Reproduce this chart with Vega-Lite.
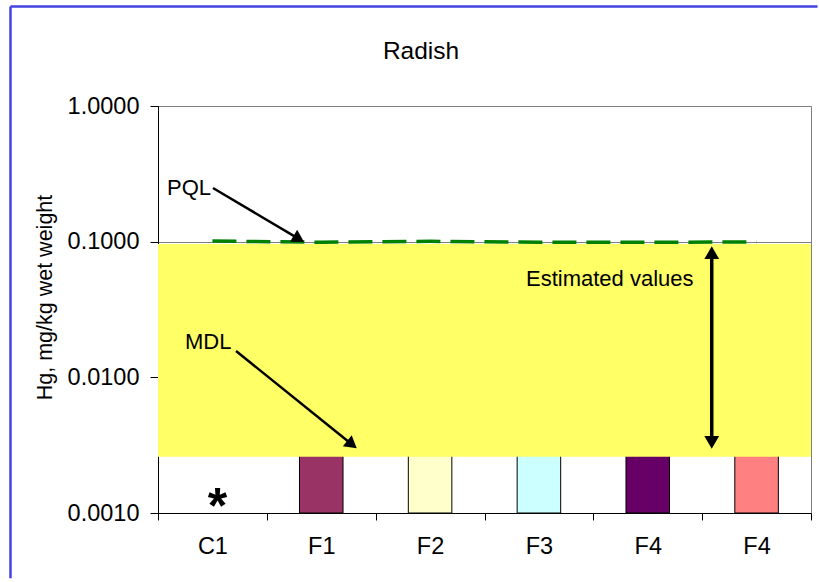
{
  "$schema": "https://vega.github.io/schema/vega-lite/v6.json",
  "width": 653,
  "height": 407,
  "autosize": "none",
  "padding": {"left": 158, "top": 106, "right": 8, "bottom": 69},
  "background": "white",
  "config": {
    "font": "Liberation Sans",
    "view": {"stroke": "#808080", "strokeWidth": 1},
    "axis": {"labelFont": "Liberation Sans", "titleFont": "Liberation Sans", "labelColor": "black", "titleColor": "black", "domainColor": "black", "tickColor": "black"}
  },
  "layer": [
    {
      "data": {"values": [
        {"id": "F1", "value": 0.0028},
        {"id": "F2", "value": 0.0028},
        {"id": "F3", "value": 0.0028},
        {"id": "F4-1", "value": 0.0028},
        {"id": "F4-2", "value": 0.0028}
      ]},
      "mark": {"type": "bar", "stroke": "black", "strokeWidth": 1, "width": {"band": 0.4}},
      "encoding": {
        "x": {"field": "id", "type": "nominal", "sort": null,
          "scale": {"domain": ["C1", "F1", "F2", "F3", "F4-1", "F4-2"], "paddingInner": 0, "paddingOuter": 0},
          "axis": {"title": null, "labelExpr": "split(datum.label, '-')[0]", "labelFontSize": 23.5, "labelPadding": 14, "tickBand": "extent", "tickSize": 7, "labelAngle": 0, "grid": false, "domainColor": "black"}},
        "y": {"field": "value", "type": "quantitative",
          "scale": {"type": "log", "domain": [0.001, 1], "nice": false},
          "axis": {"title": "Hg, mg/kg wet weight", "values": [0.001, 0.01, 0.1, 1], "format": ".4f", "labelFontSize": 23.5, "titleFontSize": 21.5, "titleFontWeight": "normal", "tickSize": 8, "labelPadding": 11, "titlePadding": 11, "titleY": 191, "grid": true, "gridColor": "#808080", "gridOpacity": 1}},
        "y2": {"datum": 0.001},
        "color": {"field": "id", "type": "nominal",
          "scale": {"domain": ["F1", "F2", "F3", "F4-1", "F4-2"], "range": ["#993366", "#FFFFCC", "#CCFFFF", "#660066", "#FF8080"]},
          "legend": null}
      }
    },
    {
      "data": {"values": [{"u": 0, "u2": 6, "value": 0.0026, "value2": 0.0962}]},
      "mark": {"type": "rect", "color": "#FFFF66", "opacity": 1},
      "encoding": {
        "x": {"field": "u", "type": "quantitative", "scale": {"domain": [0, 6], "nice": false, "zero": false}, "axis": null},
        "x2": {"field": "u2"},
        "y": {"field": "value", "type": "quantitative"},
        "y2": {"field": "value2"}
      }
    },
    {
      "data": {"values": [
        {"id": "C1", "value": 0.101},
        {"id": "F1", "value": 0.099},
        {"id": "F2", "value": 0.1005},
        {"id": "F3", "value": 0.099},
        {"id": "F4-1", "value": 0.099},
        {"id": "F4-2", "value": 0.0995}
      ]},
      "mark": {"type": "line", "color": "#008000", "strokeWidth": 3.5, "strokeDash": [24, 10]},
      "encoding": {
        "x": {"field": "id", "type": "nominal", "sort": null,
          "scale": {"domain": ["C1", "F1", "F2", "F3", "F4-1", "F4-2"], "paddingInner": 0, "paddingOuter": 0},
          "axis": null},
        "y": {"field": "value", "type": "quantitative"}
      }
    },
    {
      "encoding": {
        "x": {"field": "u", "type": "quantitative", "scale": {"domain": [0, 6], "nice": false, "zero": false}, "axis": null},
        "y": {"field": "value", "type": "quantitative"}
      },
      "layer": [
        {
          "data": {"values": [
            {"u": 0.505, "value": 0.2486, "u2": 1.294, "value2": 0.1048},
            {"u": 0.717, "value": 0.01563, "u2": 1.7826, "value2": 0.0031975}
          ]},
          "mark": {"type": "rule", "color": "black", "strokeWidth": 2.5},
          "encoding": {"x2": {"field": "u2"}, "y2": {"field": "value2"}}
        },
        {
          "data": {"values": [{"u": 5.088, "value": 0.08389, "value2": 0.003281}]},
          "mark": {"type": "rule", "color": "black", "strokeWidth": 3.5},
          "encoding": {"y2": {"field": "value2"}}
        },
        {
          "data": {"values": [{"u": 1.294, "value": 0.1048}]},
          "mark": {"type": "point", "shape": "triangle-up", "angle": 120.7, "filled": true, "color": "black", "opacity": 1, "size": 196}
        },
        {
          "data": {"values": [{"u": 1.7826, "value": 0.0031975}]},
          "mark": {"type": "point", "shape": "triangle-up", "angle": 128.9, "filled": true, "color": "black", "opacity": 1, "size": 196}
        },
        {
          "data": {"values": [{"u": 5.088, "value": 0.08293}]},
          "mark": {"type": "point", "shape": "triangle-up", "filled": true, "color": "black", "opacity": 1, "size": 220}
        },
        {
          "data": {"values": [{"u": 5.088, "value": 0.00332}]},
          "mark": {"type": "point", "shape": "triangle-down", "filled": true, "color": "black", "opacity": 1, "size": 220}
        },
        {
          "data": {"values": [
            {"u": 0.083, "value": 0.2486, "label": "PQL"},
            {"u": 0.248, "value": 0.01821, "label": "MDL"},
            {"u": 3.381, "value": 0.05305, "label": "Estimated values"}
          ]},
          "mark": {"type": "text", "align": "left", "baseline": "middle", "fontSize": 22, "color": "black"},
          "encoding": {"text": {"field": "label"}}
        },
        {
          "data": {"values": [{"u": 0.547, "value": 0.001081, "label": "*"}]},
          "mark": {"type": "text", "align": "center", "baseline": "middle", "fontSize": 50, "fontWeight": "bold", "color": "black"},
          "encoding": {"text": {"field": "label"}}
        },
        {
          "data": {"values": [{"u": 2.4166, "value": 2.2203, "label": "Radish"}]},
          "mark": {"type": "text", "align": "center", "baseline": "alphabetic", "fontSize": 24.5, "color": "black"},
          "encoding": {"text": {"field": "label"}}
        },
        {
          "data": {"values": [{"u": -1.3553, "u2": 6.06, "value": 5.412}]},
          "mark": {"type": "rule", "color": "#4343E0", "strokeWidth": 2.5},
          "encoding": {"x2": {"field": "u2"}}
        },
        {
          "data": {"values": [{"u": -1.3553, "value": 5.412, "value2": 0.00033}]},
          "mark": {"type": "rule", "color": "#4343E0", "strokeWidth": 2.5},
          "encoding": {"y2": {"field": "value2"}}
        }
      ]
    }
  ],
  "resolve": {"scale": {"x": "independent"}}
}
